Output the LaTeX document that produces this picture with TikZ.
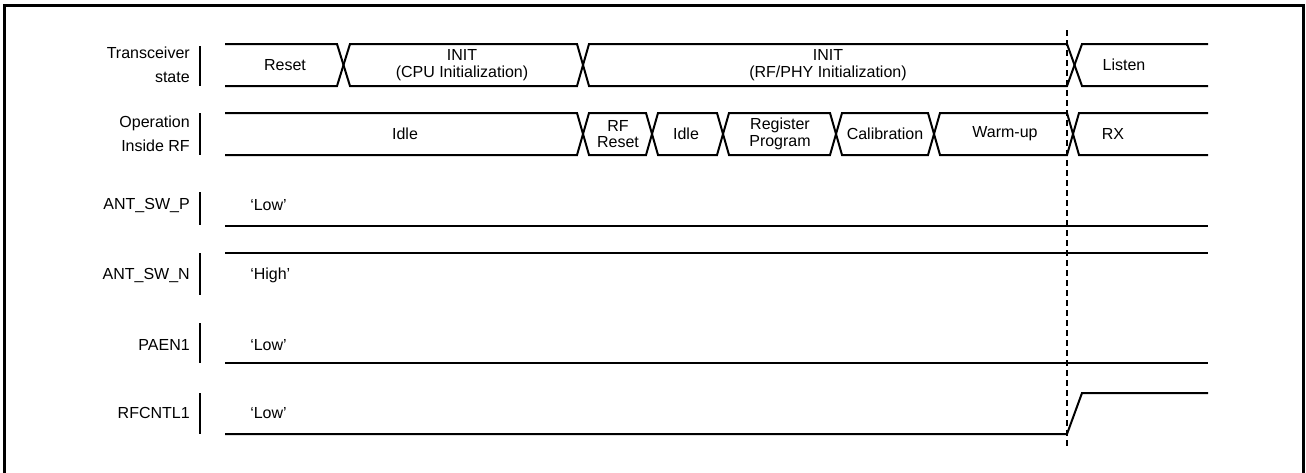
\documentclass[tikz,border=0pt]{standalone}
\usepackage{fontspec}
\setmainfont{Liberation Sans}
\begin{document}
\begin{tikzpicture}[x=0.75pt,y=-0.75pt,
  wave/.style={line width=1.5pt},
  bar/.style={line width=1.4pt},
  lab/.style={anchor=east, align=right, inner sep=0pt, font=\fontsize{12}{18}\selectfont},
  txt/.style={align=center, inner sep=0pt, font=\fontsize{12}{12.5}\selectfont},
  lvl/.style={anchor=west, inner sep=0pt, font=\fontsize{12}{12.5}\selectfont}]
\useasboundingbox (0,0) rectangle (1306,472);
\draw[line width=2pt] (4.5,480) -- (4.5,5.5) -- (1303.5,5.5) -- (1303.5,480);

% signal names
\node[lab] (lab1) at (190,65) {Transceiver\\state};
\node[lab] (lab2) at (190,134) {Operation\\Inside RF};
\node[lab] (lab3) at (190,205) {ANT\_SW\_P};
\node[lab] (lab4) at (190,275) {ANT\_SW\_N};
\node[lab] (lab5) at (190,345) {PAEN1};
\node[lab] (lab6) at (190,413) {RFCNTL1};
\draw[bar] (200,46) -- (200,86);
\draw[bar] (200,113) -- (200,155);
\draw[bar] (200,192) -- (200,225);
\draw[bar] (200,253) -- (200,295);
\draw[bar] (200,323) -- (200,363);
\draw[bar] (200,393) -- (200,434);

% transceiver state
\draw[wave] (225,44) -- (337,44) -- (350,86) -- (577,86) -- (589,44) -- (1067,44) -- (1082,86) -- (1208,86);
\draw[wave] (225,86) -- (337,86) -- (350,44) -- (577,44) -- (589,86) -- (1067,86) -- (1082,44) -- (1208,44);
\node[txt] (st1) at (285,65) {Reset};
\node[txt] (st2) at (462,65) {INIT\\(CPU Initialization)};
\node[txt] (st3) at (828,65) {INIT\\(RF/PHY Initialization)};
\node[txt] (st4) at (1124,65) {Listen};

% operation inside RF
\draw[wave] (225,113) -- (577,113) -- (589,155) -- (646,155) -- (658,113) -- (717,113) -- (729,155) -- (830,155) -- (842,113) -- (928,113) -- (940,155) -- (1067,155) -- (1079,113) -- (1208,113);
\draw[wave] (225,155) -- (577,155) -- (589,113) -- (646,113) -- (658,155) -- (717,155) -- (729,113) -- (830,113) -- (842,155) -- (928,155) -- (940,113) -- (1067,113) -- (1079,155) -- (1208,155);
\node[txt] (op1) at (405,134) {Idle};
\node[txt] (op2) at (618,134) {RF\\Reset};
\node[txt] (op3) at (686,134) {Idle};
\node[txt] (op4) at (780,134) {Register\\Program};
\node[txt] (op5) at (885,134) {Calibration};
\node[txt] (op6) at (1005,134) {Warm-up};
\node[txt] (op7) at (1113,134) {RX};

% static levels
\draw[wave] (225,226) -- (1208,226);
\node[lvl] (lv1) at (250,205) {`Low'};
\draw[wave] (225,253) -- (1208,253);
\node[lvl] (lv2) at (250,275) {`High'};
\draw[wave] (225,363) -- (1208,363);
\node[lvl] (lv3) at (250,345) {`Low'};
\draw[wave] (225,434) -- (1067,434) -- (1082,393) -- (1208,393);
\node[lvl] (lv4) at (250,413) {`Low'};

% RX start marker
\draw[line width=2pt, dash pattern=on 4.5pt off 3pt] (1067,30) -- (1067,448);
\end{tikzpicture}
\end{document}
